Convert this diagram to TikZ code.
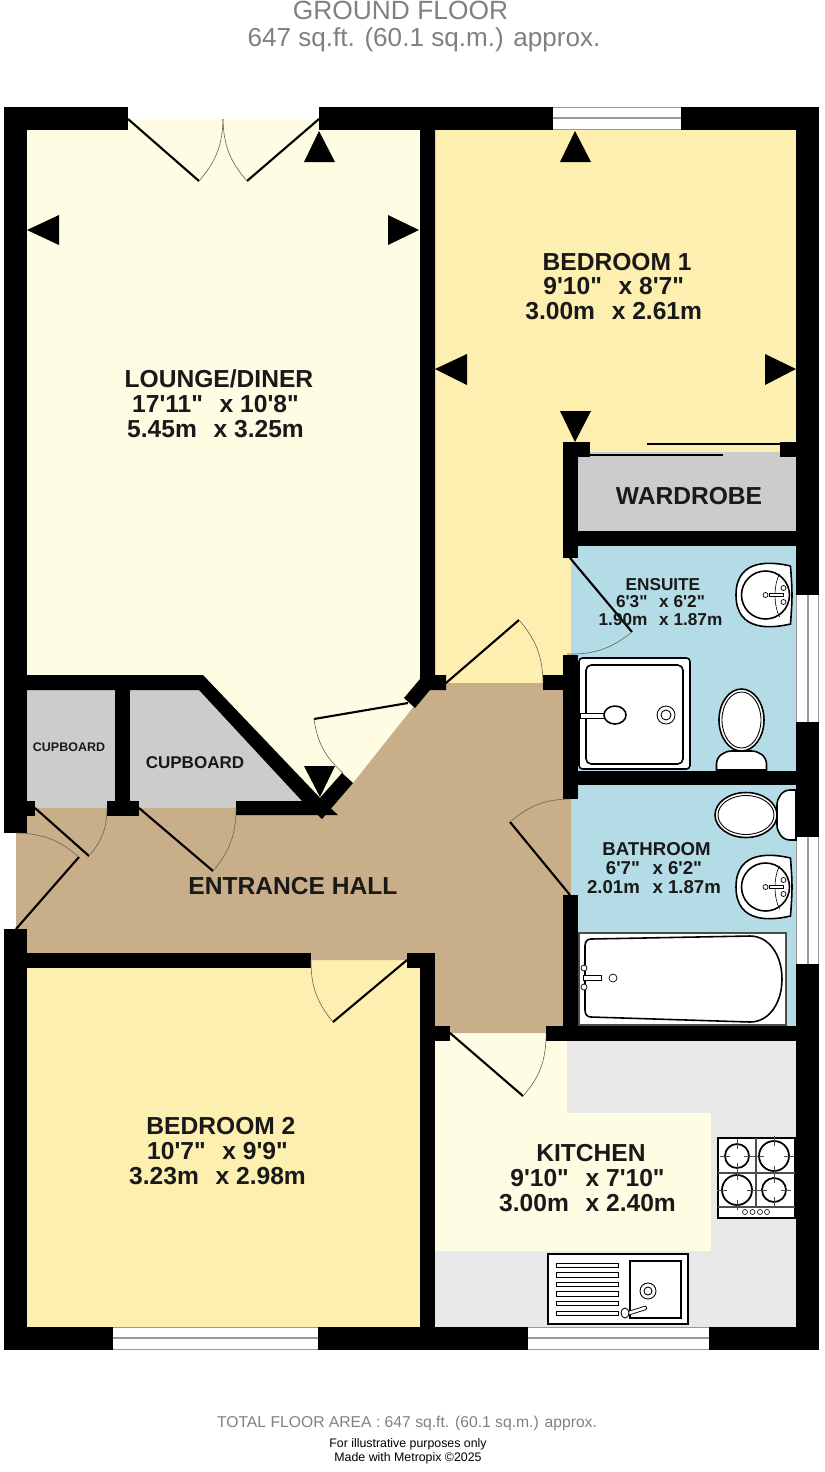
\documentclass[tikz,border=0pt]{standalone}
\usepackage{fontspec}
\newfontfamily\planfont{Liberation Sans}
\definecolor{fllounge}{RGB}{254,252,227}
\definecolor{flbed}{RGB}{253,239,176}
\definecolor{flhall}{RGB}{201,174,138}
\definecolor{flwet}{RGB}{180,220,230}
\definecolor{flstore}{RGB}{204,204,204}
\definecolor{flworktop}{RGB}{232,232,232}
\definecolor{flcaption}{RGB}{128,128,128}
\definecolor{flswing}{RGB}{110,100,85}
\tikzstyle{wall} = [fill=black]
\tikzstyle{leaf} = [line width=1.2pt,color=black]
\tikzstyle{swing} = [line width=0.35pt,color=flswing]
\tikzstyle{windowpane} = [fill=white]
\tikzstyle{windowline} = [line width=0.6pt,color=gray!80]
\tikzstyle{fixture} = [draw=black,fill=white,line width=0.9pt]
\tikzstyle{marker} = [fill=black]
\tikzstyle{bigroom} = [font=\planfont\bfseries\fontsize{14}{14.2}\selectfont,align=center,color=black!90,inner sep=0pt]
\tikzstyle{caption} = [font=\planfont,align=center,inner sep=0pt]
\newcommand{\dimgap}{\hspace{0.68em}}
\newcommand{\titlenudge}{\hspace*{0.28em}}
\newcommand{\doorswing}[4]{\draw[leaf] #1 -- #2; \draw[swing] #2 to[bend #4=20] #3;}
\newcommand{\basinfix}[2]{
\begin{scope}[shift={(#1,#2)}]
\draw[fixture] (25,-29) .. controls (8,-33) and (-29.5,-38) .. (-29.5,0) .. controls (-29.5,38) and (8,33) .. (25,29) .. controls (26,15) and (26.5,8) .. (26.5,0) .. controls (26.5,-8) and (26,-15) .. (25,-29);
\draw[fixture] (0,0) circle (24);
\draw[line width=0.35pt] (14,-21) .. controls (8,-10) and (8,10) .. (14,22);
\draw[fixture,line width=0.4pt] (0,0) circle (2.5);
\draw[fixture,line width=0.4pt] (4,-1.5) rectangle (18,1.5);
\draw[fixture,line width=0.4pt] (18,-7) circle (2.5);
\draw[fixture,line width=0.4pt] (18,7) circle (2.5);
\end{scope}}
\newcommand{\toiletfix}[3]{
\begin{scope}[shift={(#1,#2)},rotate=#3]
\draw[fixture] (-25,50) -- (-25,44) .. controls (-25,36) and (-17,31) .. (-10,31) -- (10,31) .. controls (17,31) and (25,36) .. (25,44) -- (25,50) -- cycle;
\draw[fixture] (0,0) ellipse (22.5 and 31);
\draw[fixture,line width=0.5pt] (0,0) ellipse (19.5 and 28);
\end{scope}}
\begin{document}
\begin{tikzpicture}[x=0.02cm,y=-0.02cm]
\useasboundingbox (0,0) rectangle (825,1472);
% Floors
\fill[fllounge] (27,119) -- (420,119) -- (420,720) -- (340,815) -- (320,815) -- (200,680) -- (27,680) -- cycle;
\fill[flbed] (435,125) -- (796,125) -- (796,452) -- (571,452) -- (571,683) -- (435,683) -- cycle;
\fill[flbed] (27,960) rectangle (435,1327);
\fill[flstore] (27,690) rectangle (115,808);
\fill[flstore] (130,690) -- (200,690) -- (302,801) -- (236,801) -- (236,808) -- (130,808) -- cycle;
\fill[flstore] (578,452) rectangle (796,531);
\fill[flwet] (571,546) rectangle (796,771);
\fill[flwet] (571,785) rectangle (796,1026);
\fill[flworktop] (435,1041) rectangle (796,1327);
\fill[fllounge] (435,1033) -- (567,1033) -- (567,1113) -- (711,1113) -- (711,1251) -- (435,1251) -- cycle;
\fill[flhall] (16,808) -- (330,808) -- (353,783) -- (415,705) -- (430,690) -- (446,683) -- (571,683) -- (571,1033) -- (435,1033) -- (435,960) -- (27,960) -- (16,960) -- cycle;
% Windows
\fill[windowpane] (553,107) rectangle (681,130);
\fill[windowpane] (113,1327) rectangle (318,1350);
\fill[windowpane] (528,1327) rectangle (709,1350);
\fill[windowpane] (796,595) rectangle (819,722);
\fill[windowpane] (796,837) rectangle (819,964);
\foreach \wy in {107.5,118,129.5} \draw[windowline] (553,\wy) -- (681,\wy);
\foreach \wy in {1327.5,1338,1349.5} {
\draw[windowline] (113,\wy) -- (318,\wy);
\draw[windowline] (528,\wy) -- (709,\wy);
}
\foreach \wx in {796.5,808,818.5} {
\draw[windowline] (\wx,595) -- (\wx,722);
\draw[windowline] (\wx,837) -- (\wx,964);
}
% Outer walls
\fill[wall] (4,107) rectangle (128,130);
\fill[wall] (319,107) rectangle (553,130);
\fill[wall] (681,107) rectangle (819,130);
\fill[wall] (4,107) rectangle (27,833);
\fill[wall] (4,929) rectangle (27,1350);
\fill[wall] (4,1327) rectangle (113,1350);
\fill[wall] (318,1327) rectangle (528,1350);
\fill[wall] (709,1327) rectangle (819,1350);
\fill[wall] (796,107) rectangle (819,595);
\fill[wall] (796,722) rectangle (819,837);
\fill[wall] (796,964) rectangle (819,1350);
% Inner walls
\fill[wall] (404,698) -- (420,679) -- (420,130) -- (435,130) -- (435,675) -- (446,675) -- (446,690) -- (430,690) -- (415,708) -- cycle;
\fill[wall] (420,953) rectangle (435,1327);
\fill[wall] (27,675) -- (203,675) -- (324,802) -- (338,815) -- (236,815) -- (236,801) -- (302,801) -- (199,690) -- (27,690) -- cycle;
\fill[wall] (342,773) -- (353,783) -- (322,819) -- (311,808) -- cycle;
\fill[wall] (27,801) rectangle (35,816);
\fill[wall] (107,801) rectangle (139,816);
\fill[wall] (115,690) rectangle (130,801);
\fill[wall] (27,953) rectangle (311,968);
\fill[wall] (407,953) rectangle (435,968);
\fill[wall] (435,1026) rectangle (450,1041);
\fill[wall] (546,1026) rectangle (819,1041);
\fill[wall] (563,442) rectangle (590,457);
\fill[wall] (780,442) rectangle (796,457);
\fill[wall] (563,442) rectangle (578,558);
\fill[wall] (563,531) rectangle (796,546);
\fill[wall] (563,655) rectangle (578,799);
\fill[wall] (543,675) rectangle (563,690);
\fill[wall] (563,771) rectangle (796,785);
\fill[wall] (563,895) rectangle (578,1026);
% Doors
\doorswing{(128,119)}{(199,181)}{(223,119)}{right}
\doorswing{(319,119)}{(247,181)}{(223,119)}{left}
\doorswing{(408,703)}{(314,719)}{(343,773)}{right}
\doorswing{(446,683)}{(519,620)}{(543,683)}{left}
\doorswing{(570,558)}{(632,632)}{(567,654)}{left}
\doorswing{(570,895)}{(510,822)}{(570,799)}{left}
\doorswing{(407,960)}{(333,1022)}{(311,960)}{left}
\doorswing{(16,929)}{(79,857)}{(16,833)}{right}
\doorswing{(35,808)}{(89,856)}{(107,808)}{right}
\doorswing{(139,808)}{(213,871)}{(236,808)}{right}
\doorswing{(450,1033)}{(523,1096)}{(546,1037)}{right}
\draw[leaf] (647,444) -- (780,444);
\draw[leaf] (590,455) -- (723,455);
% Dimension markers
\fill[marker] (27,230) -- (59,215) -- (59,245) -- cycle;
\fill[marker] (419,230) -- (388,215) -- (388,245) -- cycle;
\fill[marker] (319,131) -- (304,162) -- (335,162) -- cycle;
\fill[marker] (320,797) -- (304,766) -- (335,766) -- cycle;
\fill[marker] (575,131) -- (560,162) -- (591,162) -- cycle;
\fill[marker] (575,442) -- (560,411) -- (591,411) -- cycle;
\fill[marker] (435,369) -- (467,354) -- (467,385) -- cycle;
\fill[marker] (796,369) -- (765,354) -- (765,385) -- cycle;
% Ensuite
\draw[fixture,rounded corners=2pt] (579,658) rectangle (690,769);
\draw[fixture,rounded corners=3pt] (586,665) rectangle (683,764);
\draw[fixture,line width=0.5pt] (580,713) rectangle (604,718);
\draw[fixture] (615,715) ellipse (11 and 9);
\draw[fixture,line width=0.5pt] (666,715) circle (9);
\draw[fixture,line width=0.5pt] (666,715) circle (5);
\toiletfix{741.5}{720}{0}
\basinfix{765.5}{595}
% Bathroom
\toiletfix{746}{815}{90}
\basinfix{765.5}{887}
\draw[fixture,line width=0.6pt,draw=black!70] (579,933) rectangle (786,1025);
\draw[fixture] (591,939) -- (750,936) .. controls (769,936) and (782,955) .. (782,979) .. controls (782,1003) and (769,1022) .. (750,1022) -- (591,1017) .. controls (587,1017) and (585,1014) .. (585,1010) -- (585,946) .. controls (585,942) and (587,939) .. (591,939) -- cycle;
\draw[fixture,line width=0.4pt] (583,975) rectangle (601,980);
\draw[fixture,line width=0.4pt] (584,968) circle (3);
\draw[fixture,line width=0.4pt] (584,987) circle (3);
\draw[fixture,line width=0.4pt] (613,978) circle (4);
% Kitchen
\draw[fixture] (718,1138) rectangle (795,1218);
\draw[line width=0.6pt,color=black!70] (756,1138) -- (756,1207) (718,1173) -- (795,1173) (718,1207) -- (795,1207);
\foreach \bx/\by/\br in {737/1156/12,774/1156/15,737/1190/15,774/1190/12} {
\draw[fixture,line width=1pt] (\bx,\by) circle (\br);
\draw[line width=0.4pt,color=black!70] (\bx,\by-\br-5) -- (\bx,\by-\br+5) (\bx,\by+\br-5) -- (\bx,\by+\br+5) (\bx-\br-5,\by) -- (\bx-\br+5,\by) (\bx+\br-5,\by) -- (\bx+\br+5,\by);
}
\foreach \kx in {745,752.5,760,767} \draw[fixture,line width=0.35pt] (\kx,1212) circle (2.5);
\draw[fixture,line width=1.1pt] (548,1254) rectangle (688,1324);
\draw[fixture] (630,1261) rectangle (681,1318);
\foreach \dy in {0,...,5} \draw[fixture,line width=0.5pt] (556,1263+\dy*9.6) rectangle (618,1267.5+\dy*9.6);
\draw[fixture,line width=0.5pt] (648,1291) circle (8);
\draw[fixture,line width=0.5pt] (648,1291) circle (4);
\draw[line width=0.5pt,double,double distance=1.5pt,line cap=round] (626,1314) -- (645,1308);
\draw[fixture,line width=0.5pt] (625,1313) ellipse (4 and 5);
% Room labels
\node (lounge) [bigroom] at (215.5,404) {\titlenudge LOUNGE/DINER\\17'11"\dimgap x 10'8"\\5.45m\dimgap x 3.25m};
\node (bedone) [bigroom] at (613.7,286.5) {\titlenudge BEDROOM 1\\9'10"\dimgap x 8'7"\\3.00m\dimgap x 2.61m};
\node (bedtwo) [bigroom] at (217.5,1151) {\titlenudge BEDROOM 2\\10'7"\dimgap x 9'9"\\3.23m\dimgap x 2.98m};
\node (kitchen) [bigroom] at (587.5,1178) {\titlenudge KITCHEN\\9'10"\dimgap x 7'10"\\3.00m\dimgap x 2.40m};
\node (hall) [bigroom] at (293,886) {ENTRANCE HALL};
\node (wardrobe) [bigroom] at (689,496) {WARDROBE};
\node (ensuite) [bigroom,font=\planfont\bfseries\fontsize{9.8}{9.8}\selectfont] at (660.5,602) {\titlenudge ENSUITE\\6'3"\dimgap x 6'2"\\1.90m\dimgap x 1.87m};
\node (bathroom) [bigroom,font=\planfont\bfseries\fontsize{10.6}{10.8}\selectfont] at (654,868) {\titlenudge BATHROOM\\6'7"\dimgap x 6'2"\\2.01m\dimgap x 1.87m};
\node (cupa) [bigroom,font=\planfont\bfseries\fontsize{7.1}{7.1}\selectfont] at (69,747) {CUPBOARD};
\node (cupb) [bigroom,font=\planfont\bfseries\fontsize{9.7}{9.7}\selectfont] at (195,763) {CUPBOARD};
% Captions
\node (groundfloor) [caption,color=flcaption,font=\planfont\fontsize{15}{15}\selectfont] at (400.5,10) {GROUND FLOOR};
\node (floorarea) [caption,color=flcaption,font=\planfont\fontsize{14.85}{15}\selectfont] at (424,40) {647 sq.ft. (60.1 sq.m.) approx.};
\node (totalarea) [caption,color=flcaption,font=\planfont\fontsize{8.93}{9}\selectfont] at (407,1423) {TOTAL FLOOR AREA : 647 sq.ft. (60.1 sq.m.) approx.};
\node (disclaimer) [caption,font=\planfont\fontsize{7.03}{8}\selectfont] at (408,1451) {For illustrative purposes only\\Made with Metropix ©2025};
\end{tikzpicture}
\end{document}
